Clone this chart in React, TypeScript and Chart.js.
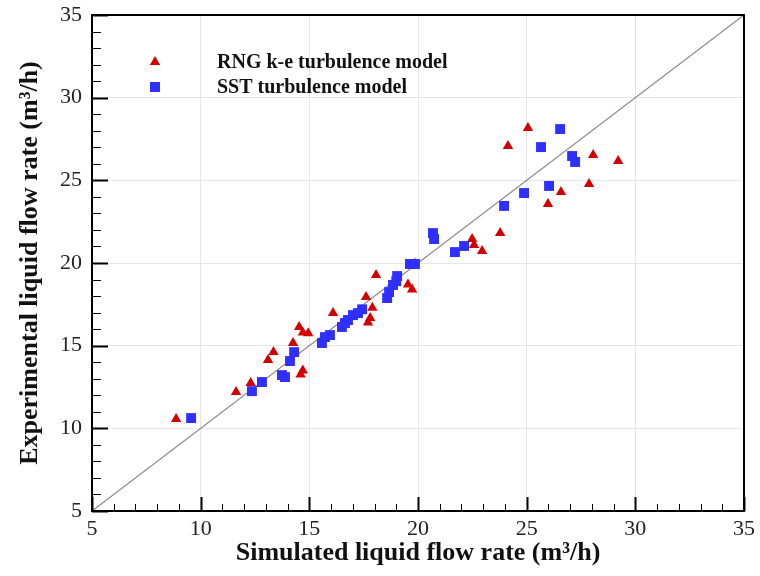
import React, { useEffect, useRef } from 'react';
import { Chart, registerables } from 'chart.js';

Chart.register(...registerables);

// ---- data ----
const rngX = [8.87, 11.63, 12.3, 13.1, 13.35, 14.25, 14.53, 14.7, 14.95, 14.6, 14.7, 16.09, 17.61, 17.7, 17.8, 17.9, 18.07, 19.54, 19.73, 19.86, 22.49, 22.58, 22.95, 23.78, 24.14, 25.06, 25.98, 26.58, 27.87, 28.06, 29.21];
const rngY = [10.56, 12.2, 12.74, 14.13, 14.61, 15.16, 16.13, 15.8, 15.75, 13.25, 13.5, 16.97, 17.94, 16.4, 16.67, 17.3, 19.27, 18.7, 18.4, 19.95, 21.45, 21.09, 20.72, 21.81, 27.08, 28.16, 23.57, 24.29, 24.78, 26.53, 26.17];

const sstX = [9.56, 12.36, 12.82, 13.74, 13.88, 14.11, 14.3, 15.58, 15.72, 15.95, 16.5, 16.64, 16.78, 17.01, 17.24, 17.43, 18.58, 18.67, 18.85, 19.0, 19.04, 19.63, 19.86, 20.69, 20.74, 21.7, 22.12, 23.96, 24.88, 25.66, 26.03, 26.54, 27.09, 27.23];
const sstY = [10.62, 12.25, 12.8, 13.22, 13.1, 14.07, 14.61, 15.16, 15.52, 15.64, 16.13, 16.37, 16.55, 16.85, 16.97, 17.2, 17.88, 18.24, 18.67, 18.9, 19.21, 19.94, 19.94, 21.81, 21.45, 20.66, 21.03, 23.45, 24.23, 27.01, 24.66, 28.1, 26.47, 26.11];

const diagonal = [5, 35];
const axisMin = 5;
const axisMax = 35;
const majorStep = 5;
const seriesLabels = ['RNG k-e turbulence model', 'SST turbulence model'];
const xTitle = 'Simulated liquid flow rate (m\u00B3/h)';
const yTitle = 'Experimental liquid flow rate (m\u00B3/h)';

const RED = '#d40000';
const BLUE = '#2f2fff';
const SERIF = "'Liberation Serif', 'Times New Roman', serif";

const framePlugin = {
  id: 'framePlugin',
  afterDraw(chart: any) {
    const { ctx, chartArea } = chart;
    const { left, right, top, bottom } = chartArea;
    const x = chart.scales.x;
    const y = chart.scales.y;
    ctx.save();
    ctx.strokeStyle = '#000';
    for (let v = axisMin; v <= axisMax; v++) {
      const major = v % majorStep === 0;
      ctx.lineWidth = major ? 2 : 1;
      const px = Math.round(x.getPixelForValue(v)) + 0.5;
      ctx.beginPath();
      ctx.moveTo(px, bottom);
      ctx.lineTo(px, bottom - (major ? 14 : 7));
      ctx.stroke();
      const py = Math.round(y.getPixelForValue(v)) + 0.5;
      ctx.beginPath();
      ctx.moveTo(left, py);
      ctx.lineTo(left + (major ? 16 : 9), py);
      ctx.stroke();
    }
    ctx.lineWidth = 2;
    ctx.strokeRect(left, top, right - left, bottom - top);

    // legend
    const mx = left + 63;
    const rows = [top + 47, top + 72];
    ctx.fillStyle = RED;
    const r = 6;
    ctx.beginPath();
    for (let i = 0; i < 3; i++) {
      const a = (i * 2 * Math.PI) / 3;
      const xx = mx + Math.sin(a) * r;
      const yy = rows[0] - Math.cos(a) * r;
      if (i === 0) ctx.moveTo(xx, yy); else ctx.lineTo(xx, yy);
    }
    ctx.closePath();
    ctx.fill();
    ctx.fillStyle = BLUE;
    ctx.fillRect(mx - 5, rows[1] - 5, 10, 10);

    ctx.fillStyle = '#111';
    ctx.font = `bold 20px ${SERIF}`;
    ctx.textAlign = 'left';
    ctx.textBaseline = 'alphabetic';
    ctx.fillText(seriesLabels[0], left + 125, rows[0] + 6);
    ctx.fillText(seriesLabels[1], left + 125, rows[1] + 6);
    ctx.restore();
  },
};

export default function App() {
  const ref = useRef<HTMLCanvasElement | null>(null);

  useEffect(() => {
    if (!ref.current) return;
    const chart = new Chart(ref.current, {
      type: 'scatter',
      data: {
        datasets: [
          {
            label: seriesLabels[1],
            data: sstX.map((v, i) => ({ x: v, y: sstY[i] })),
            pointStyle: 'rect',
            pointRadius: 7,
            backgroundColor: BLUE,
            borderWidth: 0,
            order: 0,
          },
          {
            label: seriesLabels[0],
            data: rngX.map((v, i) => ({ x: v, y: rngY[i] })),
            pointStyle: 'triangle',
            pointRadius: 6,
            backgroundColor: RED,
            borderWidth: 0,
            order: 1,
          },
          {
            label: 'y = x',
            data: diagonal.map((v) => ({ x: v, y: v })),
            showLine: true,
            pointRadius: 0,
            borderColor: '#8a8a8a',
            borderWidth: 1.2,
            order: 2,
          } as any,
        ],
      },
      options: {
        animation: false,
        responsive: false,
        maintainAspectRatio: false,
        layout: { padding: { top: 15, right: 16, left: 0, bottom: 0 } },
        plugins: { legend: { display: false }, tooltip: { enabled: false } },
        scales: {
          x: {
            type: 'linear',
            min: axisMin,
            max: axisMax,
            ticks: { stepSize: majorStep, color: '#222', font: { family: SERIF, size: 22 }, padding: 5 },
            grid: { color: '#e6e6e6', lineWidth: 1, drawTicks: false },
            border: { display: false },
            title: {
              display: true,
              text: xTitle,
              color: '#111',
              font: { family: SERIF, size: 26, weight: 'bold' },
              padding: { top: 0, bottom: 7 },
            },
            afterFit: (s: any) => { s.height = 65; s.paddingLeft = 0; s.paddingRight = 0; },
          },
          y: {
            type: 'linear',
            min: axisMin,
            max: axisMax,
            ticks: { stepSize: majorStep, color: '#222', font: { family: SERIF, size: 22 }, padding: 10 },
            grid: { color: '#e6e6e6', lineWidth: 1, drawTicks: false },
            border: { display: false },
            title: {
              display: true,
              text: yTitle,
              color: '#111',
              font: { family: SERIF, size: 26, weight: 'bold' },
              padding: { top: 15, bottom: 0 },
            },
            afterFit: (s: any) => { s.width = 92; s.paddingTop = 0; s.paddingBottom = 0; },
          },
        },
      } as any,
      plugins: [framePlugin],
    });
    return () => chart.destroy();
  }, []);

  return (
    <div style={{ position: 'fixed', left: 0, top: 0, width: 760, height: 576, background: '#fff' }}>
      <canvas ref={ref} width={760} height={576} style={{ width: 760, height: 576 }} />
    </div>
  );
}
